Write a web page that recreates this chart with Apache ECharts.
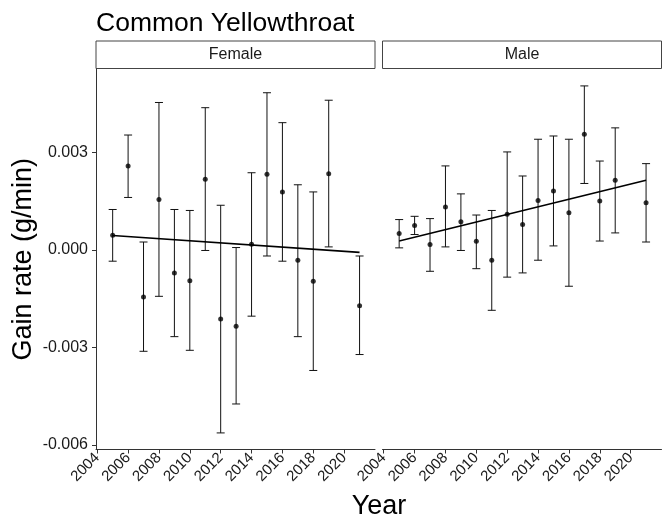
<!DOCTYPE html>
<html>
<head>
<meta charset="utf-8">
<script src="https://cdn.jsdelivr.net/npm/echarts@6/dist/echarts.min.js"></script>
<style>
  html, body { margin: 0; padding: 0; background: #fff; }
  #chart { width: 667px; height: 521px; }
</style>
</head>
<body>
<div id="chart"></div>
<script>
// data
var panels = ['Female', 'Male'];

var femaleYears = [2005, 2006, 2007, 2008, 2009, 2010, 2011, 2012, 2013, 2014, 2015, 2016, 2017, 2018, 2019, 2021];
var femaleMean  = [0.00045, 0.00258, -0.00145, 0.00155, -0.00071, -0.00095, 0.00217, -0.00213, -0.00235, 0.00017, 0.00232, 0.00178, -0.00032, -0.00097, 0.00234, -0.00172];
var femaleUpper = [0.00124, 0.00353, 0.00024, 0.00453, 0.00124, 0.00121, 0.00437, 0.00137, 0.00007, 0.00237, 0.00483, 0.00391, 0.00200, 0.00178, 0.00460, -0.00019];
var femaleLower = [-0.00035, 0.00161, -0.00312, -0.00143, -0.00267, -0.00309, -0.00002, -0.00563, -0.00474, -0.00204, -0.00019, -0.00035, -0.00267, -0.00371, 0.00009, -0.00322];
var femaleFitYears = [2005, 2021];
var femaleFit = [0.00044, -0.00008];

var maleYears = [2005, 2006, 2007, 2008, 2009, 2010, 2011, 2012, 2013, 2014, 2015, 2016, 2017, 2018, 2019, 2021];
var maleMean  = [0.00050, 0.00075, 0.00016, 0.00132, 0.00086, 0.00026, -0.00032, 0.00109, 0.00078, 0.00152, 0.00181, 0.00114, 0.00355, 0.00150, 0.00214, 0.00145];
var maleUpper = [0.00093, 0.00103, 0.00096, 0.00258, 0.00172, 0.00107, 0.00121, 0.00301, 0.00227, 0.00340, 0.00350, 0.00340, 0.00504, 0.00273, 0.00375, 0.00265];
var maleLower = [0.00006, 0.00047, -0.00066, 0.00009, -0.00002, -0.00058, -0.00186, -0.00084, -0.00071, -0.00032, 0.00012, -0.00112, 0.00204, 0.00027, 0.00052, 0.00024];
var maleFitYears = [2005, 2021];
var maleFit = [0.00027, 0.00214];

var xTicks = [2004, 2006, 2008, 2010, 2012, 2014, 2016, 2018, 2020];
var yTicks = [-0.006, -0.003, 0.000, 0.003];

var chart = echarts.init(document.getElementById('chart'));

function zip(a, b) {
  return a.map(function (v, i) { return [v, b[i]]; });
}
function zip3(a, b, c) {
  return a.map(function (v, i) { return [v, b[i], c[i]]; });
}

// error bar: vertical line + caps
function errorBar(params, api) {
  var x = api.value(0);
  var hi = api.coord([x, api.value(2)]);
  var lo = api.coord([x, api.value(1)]);
  var cap = 4;
  var st = { stroke: '#111', lineWidth: 1 };
  return {
    type: 'group',
    children: [
      { type: 'line', shape: { x1: hi[0], y1: hi[1], x2: lo[0], y2: lo[1] }, style: st },
      { type: 'line', shape: { x1: hi[0] - cap, y1: hi[1], x2: hi[0] + cap, y2: hi[1] }, style: st },
      { type: 'line', shape: { x1: lo[0] - cap, y1: lo[1], x2: lo[0] + cap, y2: lo[1] }, style: st }
    ]
  };
}

var font = 'Liberation Sans, Arial, sans-serif';

function xAxisFor(idx) {
  return {
    type: 'value',
    gridIndex: idx,
    min: 2003.92,
    max: 2022,
    splitLine: { show: false },
    axisLine: { show: true, onZero: false, lineStyle: { color: '#333', width: 1 } },
    axisTick: { show: true, length: 4, customValues: xTicks, lineStyle: { color: '#333' } },
    axisLabel: {
      customValues: xTicks,
      rotate: 45,
      margin: 6,
      fontSize: 15,
      color: '#1a1a1a',
      fontFamily: font,
      formatter: function (v) { return String(v); }
    }
  };
}

function yAxisFor(idx) {
  var ax = {
    type: 'value',
    gridIndex: idx,
    min: -0.00614,
    max: 0.00556,
    splitLine: { show: false },
    axisLine: { show: idx === 0, lineStyle: { color: '#333', width: 1 } },
    axisTick: { show: idx === 0, length: 4, customValues: yTicks, lineStyle: { color: '#333' } },
    axisLabel: {
      show: idx === 0,
      customValues: yTicks,
      margin: 8,
      fontSize: 16,
      color: '#1a1a1a',
      fontFamily: font,
      formatter: function (v) { return v.toFixed(3); }
    }
  };
  if (idx === 0) {
    ax.name = 'Gain rate (g/min)';
    ax.nameLocation = 'middle';
    ax.nameRotate = 90;
    ax.nameGap = 59;
    ax.nameTextStyle = { fontSize: 27, color: '#000', fontFamily: font };
  }
  return ax;
}

var option = {
  backgroundColor: '#fff',
  animation: false,
  title: {
    text: 'Common Yellowthroat',
    left: 91,
    top: 5,
    textStyle: { fontSize: 26.5, fontWeight: 'normal', color: '#000', fontFamily: font }
  },
  grid: [
    { left: 96, top: 69, width: 279, height: 380.5 },
    { left: 382.5, top: 69, width: 279, height: 380.5 }
  ],
  xAxis: [xAxisFor(0), xAxisFor(1)],
  yAxis: [yAxisFor(0), yAxisFor(1)],
  graphic: [
    { type: 'rect', shape: { x: 96, y: 41, width: 279, height: 27.5 }, style: { fill: '#fff', stroke: '#444', lineWidth: 1 } },
    { type: 'rect', shape: { x: 382.5, y: 41, width: 279, height: 27.5 }, style: { fill: '#fff', stroke: '#444', lineWidth: 1 } },
    { type: 'text', x: 235.5, y: 55, style: { text: panels[0], fontSize: 16, fill: '#1a1a1a', fontFamily: font, align: 'center', verticalAlign: 'middle' } },
    { type: 'text', x: 522, y: 55, style: { text: panels[1], fontSize: 16, fill: '#1a1a1a', fontFamily: font, align: 'center', verticalAlign: 'middle' } },
    { type: 'text', x: 379, y: 507, style: { text: 'Year', fontSize: 27, fill: '#000', fontFamily: font, align: 'center', verticalAlign: 'middle' } }
  ],
  series: [
    {
      type: 'custom', xAxisIndex: 0, yAxisIndex: 0,
      renderItem: errorBar, data: zip3(femaleYears, femaleLower, femaleUpper), z: 2
    },
    {
      type: 'line', xAxisIndex: 0, yAxisIndex: 0,
      data: zip(femaleFitYears, femaleFit), symbol: 'none',
      lineStyle: { color: '#000', width: 1.6 }, z: 3
    },
    {
      type: 'scatter', xAxisIndex: 0, yAxisIndex: 0,
      data: zip(femaleYears, femaleMean), symbolSize: 5,
      itemStyle: { color: '#000' }, z: 4
    },
    {
      type: 'custom', xAxisIndex: 1, yAxisIndex: 1,
      renderItem: errorBar, data: zip3(maleYears, maleLower, maleUpper), z: 2
    },
    {
      type: 'line', xAxisIndex: 1, yAxisIndex: 1,
      data: zip(maleFitYears, maleFit), symbol: 'none',
      lineStyle: { color: '#000', width: 1.6 }, z: 3
    },
    {
      type: 'scatter', xAxisIndex: 1, yAxisIndex: 1,
      data: zip(maleYears, maleMean), symbolSize: 5,
      itemStyle: { color: '#000' }, z: 4
    }
  ]
};

chart.setOption(option);
</script>
</body>
</html>
